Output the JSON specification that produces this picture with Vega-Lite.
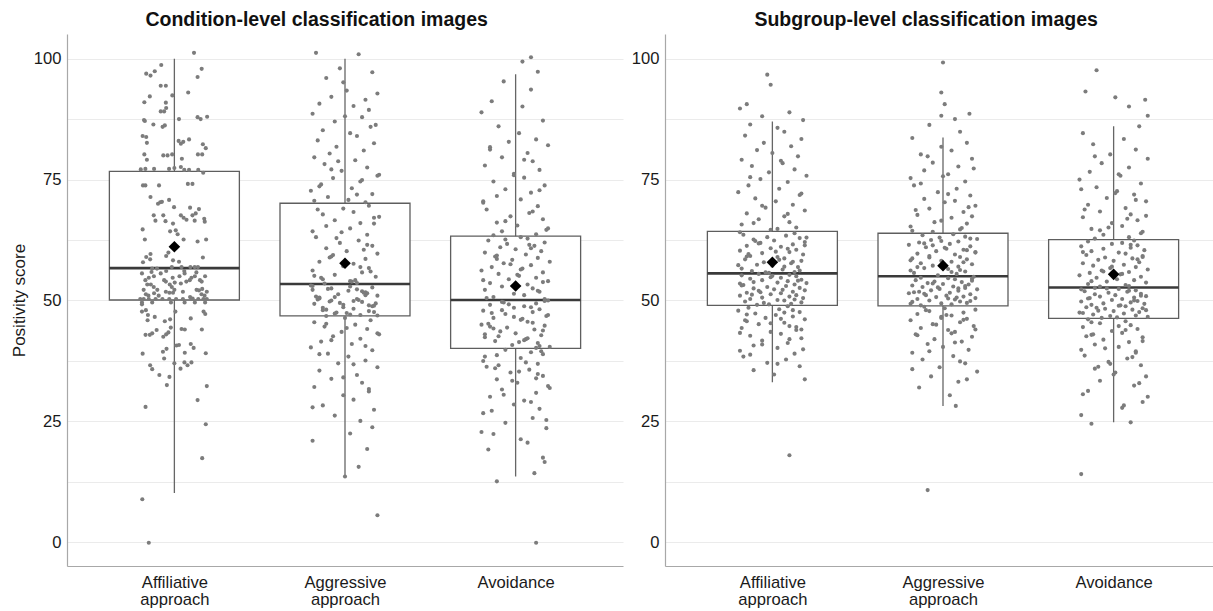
{
"$schema":"https://vega.github.io/schema/vega-lite/v6.json",
"background":"white",
"padding":{"left":10,"top":9,"right":0,"bottom":0},
"config":{"font":"Liberation Sans","view":{"stroke":null}},
"datasets":{
"boxL":[{"g":1,"lo":10.2,"q1":50.1,"med":56.7,"q3":76.7,"hi":100,"mean":61.1},{"g":2,"lo":13.7,"q1":46.8,"med":53.4,"q3":70.1,"hi":100,"mean":57.7},{"g":3,"lo":13.6,"q1":40.1,"med":50.1,"q3":63.3,"hi":96.8,"mean":53.0}],
"boxR":[{"g":1,"lo":33.1,"q1":49.0,"med":55.6,"q3":64.3,"hi":87.0,"mean":57.9},{"g":2,"lo":28.2,"q1":48.9,"med":55.0,"q3":63.9,"hi":83.7,"mean":57.2},{"g":3,"lo":24.8,"q1":46.3,"med":52.7,"q3":62.6,"hi":86.0,"mean":55.4}],
"ptsL":[{"x":1.115,"y":101.2},{"x":0.923,"y":98.7},{"x":1.16,"y":97.9},{"x":0.885,"y":97.4},{"x":0.835,"y":96.9},{"x":0.86,"y":96.5},{"x":1.136,"y":96.2},{"x":0.92,"y":94.4},{"x":0.95,"y":94.4},{"x":1.081,"y":93.0},{"x":0.988,"y":92.4},{"x":0.856,"y":92.2},{"x":0.824,"y":91.0},{"x":0.95,"y":90.9},{"x":0.952,"y":89.8},{"x":0.92,"y":89.1},{"x":0.94,"y":89.1},{"x":0.822,"y":87.3},{"x":0.827,"y":87.1},{"x":0.877,"y":86.4},{"x":0.931,"y":85.9},{"x":0.944,"y":86.2},{"x":1.027,"y":87.5},{"x":1.136,"y":87.9},{"x":1.154,"y":87.5},{"x":1.192,"y":88.0},{"x":0.814,"y":84.0},{"x":0.835,"y":83.8},{"x":0.839,"y":82.6},{"x":1.025,"y":83.0},{"x":1.038,"y":82.4},{"x":1.052,"y":82.8},{"x":1.086,"y":83.3},{"x":1.167,"y":82.3},{"x":1.184,"y":81.5},{"x":1.138,"y":80.2},{"x":1.163,"y":80.2},{"x":0.824,"y":80.2},{"x":0.839,"y":79.1},{"x":0.935,"y":80.0},{"x":0.96,"y":80.0},{"x":0.987,"y":80.2},{"x":1.044,"y":79.3},{"x":0.803,"y":77.1},{"x":0.83,"y":77.2},{"x":0.881,"y":77.2},{"x":0.969,"y":77.2},{"x":1.0,"y":77.4},{"x":1.038,"y":77.6},{"x":1.058,"y":77.0},{"x":1.086,"y":77.0},{"x":1.14,"y":77.0},{"x":1.169,"y":76.4},{"x":0.816,"y":73.8},{"x":0.83,"y":73.8},{"x":0.91,"y":73.8},{"x":1.079,"y":74.1},{"x":1.106,"y":74.1},{"x":0.86,"y":71.4},{"x":0.904,"y":70.0},{"x":0.917,"y":70.3},{"x":0.927,"y":70.4},{"x":0.969,"y":70.8},{"x":0.998,"y":69.3},{"x":1.092,"y":69.2},{"x":1.144,"y":68.9},{"x":0.879,"y":67.6},{"x":0.935,"y":67.6},{"x":1.038,"y":67.6},{"x":1.054,"y":67.1},{"x":1.106,"y":67.6},{"x":1.125,"y":68.0},{"x":0.889,"y":66.5},{"x":0.948,"y":66.4},{"x":0.992,"y":65.9},{"x":1.071,"y":66.7},{"x":1.119,"y":66.5},{"x":1.175,"y":66.9},{"x":1.178,"y":66.3},{"x":0.814,"y":64.7},{"x":0.975,"y":64.3},{"x":1.008,"y":64.5},{"x":1.019,"y":63.7},{"x":1.054,"y":62.6},{"x":0.827,"y":62.6},{"x":1.186,"y":62.6},{"x":1.136,"y":62.2},{"x":0.965,"y":59.9},{"x":0.952,"y":59.2},{"x":0.992,"y":58.3},{"x":1.027,"y":58.0},{"x":0.86,"y":59.6},{"x":0.835,"y":59.0},{"x":0.816,"y":57.9},{"x":0.858,"y":58.5},{"x":1.167,"y":58.9},{"x":0.87,"y":56.6},{"x":0.898,"y":56.6},{"x":0.952,"y":56.1},{"x":0.985,"y":56.9},{"x":1.042,"y":56.9},{"x":1.094,"y":56.9},{"x":1.119,"y":56.9},{"x":1.138,"y":56.9},{"x":0.866,"y":55.9},{"x":1.058,"y":56.1},{"x":1.129,"y":55.8},{"x":0.841,"y":53.3},{"x":0.862,"y":53.3},{"x":0.879,"y":52.8},{"x":0.973,"y":53.3},{"x":0.985,"y":52.8},{"x":1.002,"y":53.7},{"x":1.038,"y":53.5},{"x":0.833,"y":51.3},{"x":0.848,"y":51.0},{"x":0.908,"y":51.0},{"x":0.971,"y":51.6},{"x":0.992,"y":51.6},{"x":0.881,"y":51.5},{"x":1.144,"y":52.1},{"x":1.163,"y":52.4},{"x":1.159,"y":51.3},{"x":1.177,"y":51.0},{"x":1.092,"y":50.7},{"x":1.107,"y":50.4},
{"x":0.8,"y":50.3},{"x":0.82,"y":50.3},{"x":0.85,"y":50.3},{"x":0.89,"y":50.3},{"x":0.93,"y":50.3},{"x":0.97,"y":50.3},{"x":1.01,"y":50.3},{"x":1.05,"y":50.3},{"x":1.1,"y":50.3},{"x":1.14,"y":50.3},{"x":1.17,"y":50.3},{"x":1.19,"y":50.3},{"x":0.81,"y":49.6},{"x":0.87,"y":49.6},{"x":0.98,"y":49.6},{"x":1.06,"y":49.6},{"x":1.12,"y":49.6},{"x":1.18,"y":49.6},{"x":0.83,"y":54.2},{"x":0.94,"y":54.2},{"x":1.09,"y":54.2},{"x":1.15,"y":54.2},{"x":0.88,"y":55.0},{"x":1.03,"y":55.0},{"x":1.12,"y":55.0},{"x":1.18,"y":55.0},{"x":0.81,"y":55.6},{"x":0.92,"y":55.6},{"x":1.06,"y":55.6},{"x":0.85,"y":54.7},{"x":0.99,"y":54.7},{"x":1.1,"y":54.7},{"x":0.95,"y":53.9},{"x":1.07,"y":53.9},{"x":1.16,"y":53.9},{"x":0.82,"y":52.2},{"x":0.9,"y":52.2},{"x":1.0,"y":52.2},{"x":1.13,"y":52.2},{"x":0.95,"y":51.8},{"x":1.05,"y":51.8},{"x":1.19,"y":51.8},
{"x":0.81,"y":49.2},{"x":0.833,"y":48.0},{"x":0.845,"y":47.0},{"x":0.81,"y":47.7},{"x":0.885,"y":46.6},{"x":0.843,"y":45.9},{"x":0.944,"y":45.7},{"x":0.975,"y":46.1},{"x":1.006,"y":47.7},{"x":1.096,"y":46.3},{"x":1.171,"y":47.7},{"x":1.181,"y":47.2},{"x":0.831,"y":42.9},{"x":0.856,"y":42.9},{"x":0.87,"y":43.2},{"x":0.896,"y":43.9},{"x":0.935,"y":42.5},{"x":0.952,"y":43.0},{"x":0.965,"y":43.4},{"x":0.979,"y":44.4},{"x":1.042,"y":44.1},{"x":1.061,"y":44.0},{"x":1.161,"y":44.0},{"x":0.933,"y":39.4},{"x":0.954,"y":40.0},{"x":1.012,"y":40.7},{"x":1.027,"y":40.8},{"x":1.061,"y":39.2},{"x":1.096,"y":41.0},{"x":1.113,"y":40.2},{"x":0.814,"y":39.0},{"x":1.184,"y":39.1},{"x":0.94,"y":38.0},{"x":1.0,"y":37.0},{"x":1.036,"y":35.9},{"x":1.059,"y":37.2},{"x":1.077,"y":36.6},{"x":1.1,"y":37.2},{"x":0.858,"y":36.6},{"x":0.87,"y":35.8},{"x":0.912,"y":34.6},{"x":0.971,"y":34.2},{"x":0.956,"y":32.5},{"x":1.19,"y":32.3},{"x":1.136,"y":29.4},{"x":0.831,"y":28.0},{"x":1.184,"y":24.4},{"x":1.163,"y":17.4},{"x":0.812,"y":8.9},{"x":0.85,"y":-0.1},
{"x":1.83,"y":101.2},{"x":2.08,"y":100.9},{"x":1.97,"y":98.0},{"x":2.16,"y":97.2},{"x":1.89,"y":96.0},{"x":2.01,"y":93.4},{"x":2.19,"y":92.8},{"x":1.92,"y":92.1},{"x":2.12,"y":91.5},{"x":1.85,"y":90.7},{"x":2.05,"y":90.2},{"x":1.99,"y":95.1},{"x":2.14,"y":89.4},{"x":1.81,"y":88.6},{"x":2.1,"y":87.9},{"x":1.94,"y":87.0},{"x":2.18,"y":86.3},{"x":1.87,"y":85.2},{"x":2.03,"y":84.6},{"x":2.07,"y":84.0},{"x":1.84,"y":83.1},{"x":2.17,"y":82.5},{"x":1.95,"y":81.8},{"x":2.11,"y":81.0},{"x":1.91,"y":80.4},{"x":2.0,"y":88.1},{"x":2.15,"y":85.9},{"x":1.82,"y":79.6},{"x":2.06,"y":79.0},{"x":1.88,"y":78.2},{"x":2.13,"y":77.5},{"x":1.98,"y":76.8},{"x":2.2,"y":76.0},{"x":1.93,"y":75.3},{"x":2.09,"y":74.6},{"x":1.86,"y":74.0},{"x":2.04,"y":73.2},{"x":1.8,"y":72.7},{"x":2.16,"y":72.0},{"x":1.9,"y":71.4},{"x":2.02,"y":70.8},{"x":2.12,"y":70.3},{"x":1.96,"y":78.8},{"x":2.19,"y":75.8},{"x":1.85,"y":73.6},{"x":2.07,"y":71.9},{"x":1.92,"y":77.1},{"x":2.1,"y":74.9},{"x":1.82,"y":70.6},
{"x":2.14,"y":69.6},{"x":1.99,"y":69.0},{"x":2.05,"y":68.3},{"x":1.87,"y":67.8},{"x":2.17,"y":67.1},{"x":1.94,"y":66.6},{"x":2.09,"y":66.0},{"x":1.89,"y":65.4},{"x":2.03,"y":64.9},{"x":1.81,"y":64.3},{"x":2.13,"y":63.6},{"x":1.83,"y":63.1},{"x":2.08,"y":62.4},{"x":1.97,"y":61.9},{"x":2.16,"y":61.3},{"x":1.89,"y":60.8},{"x":2.01,"y":60.2},{"x":2.19,"y":59.7},{"x":1.92,"y":59.1},{"x":2.12,"y":58.6},{"x":1.85,"y":58.0},{"x":2.05,"y":57.6},{"x":1.99,"y":57.1},{"x":2.14,"y":56.7},{"x":1.81,"y":56.2},{"x":2.1,"y":55.8},{"x":1.94,"y":55.3},{"x":2.18,"y":54.9},{"x":1.87,"y":54.4},{"x":2.03,"y":54.0},{"x":2.07,"y":53.6},{"x":1.84,"y":68.8},{"x":2.17,"y":65.9},{"x":1.95,"y":62.9},{"x":2.11,"y":60.5},{"x":1.91,"y":58.9},{"x":2.0,"y":57.4},{"x":2.15,"y":56.0},{"x":1.82,"y":55.1},{"x":2.06,"y":54.2},{"x":1.88,"y":53.5},{"x":2.13,"y":61.5},{"x":1.98,"y":64.1},{"x":2.2,"y":67.3},{"x":1.93,"y":59.4},{"x":2.09,"y":56.9},{"x":1.86,"y":54.7},{"x":2.04,"y":53.9},
{"x":1.8,"y":53.1},{"x":2.16,"y":52.7},{"x":1.9,"y":52.4},{"x":2.02,"y":52.0},{"x":2.12,"y":51.7},{"x":1.96,"y":51.3},{"x":2.19,"y":51.0},{"x":1.85,"y":50.6},{"x":2.07,"y":50.3},{"x":1.92,"y":50.0},{"x":2.1,"y":49.7},{"x":1.82,"y":49.3},{"x":2.14,"y":49.0},{"x":1.99,"y":48.6},{"x":2.05,"y":48.3},{"x":1.87,"y":48.0},{"x":2.17,"y":47.6},{"x":1.94,"y":47.3},{"x":2.09,"y":47.0},{"x":1.89,"y":46.8},{"x":2.03,"y":52.9},{"x":1.81,"y":52.2},{"x":2.13,"y":51.5},{"x":1.83,"y":50.8},{"x":2.08,"y":50.1},{"x":1.97,"y":49.5},{"x":2.16,"y":48.8},{"x":1.89,"y":48.1},{"x":2.01,"y":47.4},{"x":2.19,"y":46.9},{"x":1.92,"y":52.5},{"x":2.12,"y":51.1},{"x":1.85,"y":50.4},{"x":2.05,"y":49.9},{"x":1.99,"y":49.1},{"x":2.14,"y":47.8},{"x":1.81,"y":53.0},{"x":2.1,"y":51.9},{"x":1.94,"y":50.7},{"x":2.18,"y":49.4},{"x":1.87,"y":48.5},{"x":2.03,"y":47.1},{"x":2.07,"y":52.3},{"x":1.84,"y":50.2},{"x":2.17,"y":48.9},{"x":1.95,"y":47.5},{"x":2.11,"y":51.6},{"x":1.91,"y":49.8},
{"x":2.0,"y":46.4},{"x":2.15,"y":45.9},{"x":1.82,"y":45.5},{"x":2.06,"y":45.0},{"x":1.88,"y":44.6},{"x":2.13,"y":44.1},{"x":1.98,"y":43.5},{"x":2.2,"y":43.0},{"x":1.93,"y":42.6},{"x":2.09,"y":42.1},{"x":1.86,"y":41.5},{"x":2.04,"y":41.0},{"x":1.8,"y":40.3},{"x":2.16,"y":39.7},{"x":1.9,"y":39.0},{"x":2.02,"y":38.4},{"x":2.12,"y":37.6},{"x":1.96,"y":37.0},{"x":2.19,"y":36.2},{"x":1.85,"y":35.5},{"x":2.07,"y":34.6},{"x":1.92,"y":33.8},{"x":2.1,"y":33.0},{"x":1.82,"y":32.1},{"x":2.14,"y":31.2},{"x":1.99,"y":30.4},{"x":2.05,"y":29.5},{"x":1.87,"y":28.3},{"x":2.17,"y":27.4},{"x":1.94,"y":26.2},{"x":2.09,"y":25.1},{"x":2.16,"y":23.8},{"x":2.03,"y":22.5},{"x":1.81,"y":21.0},{"x":2.13,"y":19.3},{"x":2.08,"y":15.6},{"x":2.0,"y":13.6},{"x":2.19,"y":5.6},{"x":1.89,"y":45.2},{"x":2.01,"y":44.3},{"x":2.19,"y":43.2},{"x":1.92,"y":41.8},{"x":2.12,"y":40.6},{"x":1.85,"y":38.9},{"x":2.05,"y":36.8},{"x":1.99,"y":34.1},{"x":2.14,"y":31.7},{"x":1.81,"y":27.9},
{"x":3.09,"y":100.3},{"x":3.04,"y":99.4},{"x":3.13,"y":97.3},{"x":2.93,"y":95.3},{"x":3.09,"y":93.6},{"x":2.86,"y":91.2},{"x":3.04,"y":90.1},{"x":2.8,"y":88.9},{"x":3.16,"y":87.2},{"x":2.9,"y":86.0},{"x":3.02,"y":84.6},{"x":3.12,"y":83.3},{"x":2.96,"y":82.8},{"x":3.19,"y":82.1},{"x":2.85,"y":81.2},{"x":3.07,"y":80.5},{"x":2.92,"y":79.6},{"x":3.1,"y":78.8},{"x":2.82,"y":77.9},{"x":3.14,"y":77.0},{"x":2.99,"y":76.2},{"x":3.05,"y":75.4},{"x":2.87,"y":74.6},{"x":3.17,"y":73.8},{"x":2.94,"y":73.0},{"x":3.09,"y":72.3},{"x":2.89,"y":71.6},{"x":3.03,"y":70.9},{"x":2.81,"y":70.2},{"x":3.13,"y":69.5},{"x":2.83,"y":68.8},{"x":3.08,"y":68.1},{"x":2.97,"y":67.4},{"x":3.16,"y":66.8},{"x":2.89,"y":66.1},{"x":3.01,"y":65.5},{"x":3.19,"y":64.9},{"x":2.92,"y":64.3},{"x":3.12,"y":63.7},{"x":2.85,"y":81.7},{"x":3.05,"y":79.1},{"x":2.99,"y":75.9},{"x":3.14,"y":72.8},{"x":2.81,"y":70.5},{"x":3.1,"y":68.4},{"x":2.94,"y":66.4},{"x":3.18,"y":64.6},{"x":2.87,"y":63.5},
{"x":3.03,"y":63.1},{"x":3.07,"y":62.8},{"x":2.84,"y":62.4},{"x":3.17,"y":62.0},{"x":2.95,"y":61.7},{"x":3.11,"y":61.3},{"x":2.91,"y":61.0},{"x":3.0,"y":60.6},{"x":3.15,"y":60.2},{"x":2.82,"y":59.9},{"x":3.06,"y":59.5},{"x":2.88,"y":59.1},{"x":3.13,"y":58.8},{"x":2.98,"y":58.4},{"x":3.2,"y":58.0},{"x":2.93,"y":57.7},{"x":3.09,"y":57.3},{"x":2.86,"y":56.9},{"x":3.04,"y":56.6},{"x":2.8,"y":56.2},{"x":3.16,"y":55.8},{"x":2.9,"y":55.5},{"x":3.02,"y":55.1},{"x":3.12,"y":54.7},{"x":2.96,"y":54.4},{"x":3.19,"y":54.0},{"x":2.85,"y":53.6},{"x":3.07,"y":53.3},{"x":2.92,"y":52.9},{"x":3.1,"y":52.5},{"x":2.82,"y":52.2},{"x":3.14,"y":51.8},{"x":2.99,"y":51.4},{"x":3.05,"y":51.1},{"x":2.87,"y":50.7},{"x":3.17,"y":50.3},{"x":2.94,"y":62.6},{"x":3.09,"y":60.8},{"x":2.89,"y":58.6},{"x":3.03,"y":56.4},{"x":2.81,"y":54.2},{"x":3.13,"y":52.0},{"x":2.83,"y":50.5},{"x":3.08,"y":61.5},{"x":2.97,"y":57.5},{"x":3.16,"y":53.8},{"x":2.89,"y":59.3},{"x":3.01,"y":55.3},
{"x":3.19,"y":50.0},{"x":2.92,"y":49.7},{"x":3.12,"y":49.4},{"x":2.85,"y":49.1},{"x":3.05,"y":48.8},{"x":2.99,"y":48.5},{"x":3.14,"y":48.2},{"x":2.81,"y":47.9},{"x":3.1,"y":47.6},{"x":2.94,"y":47.2},{"x":3.18,"y":46.8},{"x":2.87,"y":46.4},{"x":3.03,"y":46.0},{"x":3.07,"y":45.6},{"x":2.84,"y":45.2},{"x":3.17,"y":44.8},{"x":2.95,"y":44.4},{"x":3.11,"y":44.0},{"x":2.91,"y":43.6},{"x":3.0,"y":43.2},{"x":3.15,"y":42.8},{"x":2.82,"y":42.4},{"x":3.06,"y":42.0},{"x":2.88,"y":41.6},{"x":3.13,"y":41.2},{"x":2.98,"y":40.8},{"x":3.2,"y":40.4},{"x":2.93,"y":49.6},{"x":3.09,"y":48.6},{"x":2.86,"y":47.4},{"x":3.04,"y":46.2},{"x":2.8,"y":45.0},{"x":3.16,"y":43.8},{"x":2.9,"y":42.6},{"x":3.02,"y":41.4},{"x":3.12,"y":40.2},{"x":2.96,"y":49.2},{"x":3.19,"y":47.0},{"x":2.85,"y":44.6},{"x":3.07,"y":42.2},{"x":2.92,"y":48.0},{"x":3.1,"y":45.4},{"x":2.82,"y":43.0},{"x":3.14,"y":40.6},{"x":2.99,"y":46.6},{"x":3.05,"y":41.8},{"x":2.87,"y":44.2},{"x":3.17,"y":49.9},
{"x":2.94,"y":39.8},{"x":3.09,"y":39.3},{"x":2.89,"y":38.7},{"x":3.03,"y":38.1},{"x":2.81,"y":37.5},{"x":3.13,"y":36.9},{"x":2.83,"y":36.3},{"x":3.08,"y":35.7},{"x":2.97,"y":35.1},{"x":3.16,"y":34.4},{"x":2.89,"y":33.7},{"x":3.01,"y":33.0},{"x":3.19,"y":32.3},{"x":2.92,"y":31.6},{"x":3.12,"y":30.9},{"x":2.85,"y":30.1},{"x":3.05,"y":29.3},{"x":2.99,"y":28.5},{"x":3.14,"y":27.6},{"x":2.81,"y":26.7},{"x":3.1,"y":25.7},{"x":2.94,"y":24.7},{"x":3.18,"y":23.6},{"x":2.87,"y":22.4},{"x":3.03,"y":21.3},{"x":3.07,"y":20.6},{"x":2.84,"y":19.2},{"x":3.16,"y":17.5},{"x":3.17,"y":16.6},{"x":3.11,"y":14.3},{"x":2.89,"y":12.6},{"x":3.12,"y":-0.1},{"x":3.15,"y":39.5},{"x":2.82,"y":38.4},{"x":3.06,"y":37.2},{"x":2.88,"y":36.0},{"x":3.13,"y":34.8},{"x":2.98,"y":33.4},{"x":3.2,"y":31.9},{"x":2.93,"y":30.5},{"x":3.09,"y":29.0},{"x":2.86,"y":27.2},{"x":3.18,"y":25.3},{"x":2.8,"y":22.8},{"x":3.16,"y":38.9},{"x":2.9,"y":36.6},{"x":3.02,"y":35.3},{"x":3.12,"y":33.9}],
"ptsR":[{"x":0.97,"y":96.7},{"x":0.99,"y":94.6},{"x":0.85,"y":90.6},{"x":0.81,"y":89.7},{"x":1.1,"y":88.9},{"x":0.94,"y":88.1},{"x":1.18,"y":87.3},{"x":0.87,"y":86.4},{"x":1.03,"y":85.7},{"x":1.07,"y":84.9},{"x":0.84,"y":84.1},{"x":1.17,"y":83.4},{"x":0.95,"y":82.6},{"x":1.11,"y":81.9},{"x":0.91,"y":81.1},{"x":1.0,"y":80.5},{"x":1.15,"y":79.8},{"x":0.82,"y":79.1},{"x":1.06,"y":78.4},{"x":0.88,"y":77.8},{"x":1.13,"y":77.1},{"x":0.98,"y":76.5},{"x":1.2,"y":75.8},{"x":0.93,"y":75.1},{"x":1.09,"y":74.5},{"x":0.86,"y":73.8},{"x":1.04,"y":73.1},{"x":0.8,"y":72.4},{"x":1.16,"y":71.8},{"x":0.9,"y":71.1},{"x":1.02,"y":70.5},{"x":1.12,"y":69.8},{"x":0.96,"y":69.2},{"x":1.19,"y":68.6},{"x":0.85,"y":68.0},{"x":1.07,"y":67.4},{"x":0.92,"y":66.8},{"x":1.1,"y":66.2},{"x":0.82,"y":65.7},{"x":1.14,"y":65.1},{"x":0.99,"y":64.6},{"x":1.05,"y":78.9},{"x":0.87,"y":75.5},{"x":1.17,"y":72.1},{"x":0.94,"y":69.6},{"x":1.09,"y":67.9},{"x":0.89,"y":66.0},{"x":1.03,"y":64.8},
{"x":0.81,"y":64.1},{"x":1.13,"y":63.9},{"x":0.83,"y":63.6},{"x":1.08,"y":63.4},{"x":0.97,"y":63.1},{"x":1.16,"y":62.9},{"x":0.89,"y":62.6},{"x":1.01,"y":62.4},{"x":1.19,"y":62.1},{"x":0.92,"y":61.8},{"x":1.12,"y":61.6},{"x":0.85,"y":61.3},{"x":1.05,"y":61.1},{"x":0.99,"y":60.8},{"x":1.14,"y":60.5},{"x":0.81,"y":60.3},{"x":1.1,"y":60.0},{"x":0.94,"y":59.8},{"x":1.18,"y":59.5},{"x":0.87,"y":59.2},{"x":1.03,"y":59.0},{"x":1.07,"y":58.7},{"x":0.84,"y":58.5},{"x":1.17,"y":58.2},{"x":0.95,"y":57.9},{"x":1.11,"y":57.7},{"x":0.91,"y":57.4},{"x":1.0,"y":57.2},{"x":1.15,"y":56.9},{"x":0.82,"y":56.6},{"x":1.06,"y":56.4},{"x":0.88,"y":56.1},{"x":1.13,"y":55.9},{"x":0.98,"y":55.7},{"x":1.2,"y":63.0},{"x":0.93,"y":61.9},{"x":1.09,"y":60.7},{"x":0.86,"y":59.6},{"x":1.04,"y":58.4},{"x":0.8,"y":57.3},{"x":1.16,"y":56.2},{"x":0.9,"y":62.3},{"x":1.02,"y":60.1},{"x":1.12,"y":58.0},{"x":0.96,"y":55.8},{"x":1.19,"y":61.4},{"x":0.85,"y":59.1},{"x":1.07,"y":57.0},
{"x":0.92,"y":55.5},{"x":1.1,"y":55.3},{"x":0.82,"y":55.2},{"x":1.14,"y":55.0},{"x":0.99,"y":54.8},{"x":1.05,"y":54.7},{"x":0.87,"y":54.5},{"x":1.17,"y":54.3},{"x":0.94,"y":54.2},{"x":1.09,"y":54.0},{"x":0.89,"y":53.8},{"x":1.03,"y":53.7},{"x":0.81,"y":53.5},{"x":1.13,"y":53.3},{"x":0.83,"y":53.2},{"x":1.08,"y":53.0},{"x":0.97,"y":52.8},{"x":1.16,"y":52.6},{"x":0.89,"y":52.5},{"x":1.01,"y":52.3},{"x":1.19,"y":52.1},{"x":0.92,"y":52.0},{"x":1.12,"y":51.8},{"x":0.85,"y":51.6},{"x":1.05,"y":51.5},{"x":0.99,"y":51.3},{"x":1.14,"y":51.1},{"x":0.81,"y":51.0},{"x":1.1,"y":50.8},{"x":0.94,"y":50.6},{"x":1.18,"y":50.5},{"x":0.87,"y":50.3},{"x":1.03,"y":50.1},{"x":1.07,"y":50.0},{"x":0.84,"y":49.8},{"x":1.17,"y":49.6},{"x":0.95,"y":49.5},{"x":1.11,"y":49.3},{"x":0.91,"y":49.1},{"x":1.0,"y":55.1},{"x":1.15,"y":54.1},{"x":0.82,"y":53.1},{"x":1.06,"y":52.2},{"x":0.88,"y":51.2},{"x":1.13,"y":50.2},{"x":0.98,"y":49.2},{"x":1.2,"y":53.6},{"x":0.93,"y":51.7},
{"x":1.09,"y":48.8},{"x":0.86,"y":48.5},{"x":1.04,"y":48.2},{"x":0.8,"y":47.9},{"x":1.16,"y":47.6},{"x":0.9,"y":47.3},{"x":1.02,"y":47.0},{"x":1.12,"y":46.7},{"x":0.96,"y":46.4},{"x":1.19,"y":46.1},{"x":0.85,"y":45.7},{"x":1.07,"y":45.4},{"x":0.92,"y":45.1},{"x":1.1,"y":44.7},{"x":0.82,"y":44.3},{"x":1.14,"y":43.9},{"x":0.99,"y":43.5},{"x":1.05,"y":43.1},{"x":0.87,"y":42.7},{"x":1.17,"y":42.2},{"x":0.94,"y":41.7},{"x":1.09,"y":41.2},{"x":0.89,"y":40.7},{"x":1.03,"y":40.2},{"x":0.81,"y":39.6},{"x":1.13,"y":39.0},{"x":0.83,"y":38.4},{"x":1.08,"y":37.8},{"x":0.97,"y":37.1},{"x":1.16,"y":36.4},{"x":0.89,"y":35.6},{"x":1.01,"y":34.7},{"x":1.19,"y":33.7},{"x":1.1,"y":18.0},{"x":1.12,"y":48.0},{"x":0.85,"y":47.1},{"x":1.05,"y":46.2},{"x":0.99,"y":45.3},{"x":1.14,"y":44.5},{"x":0.81,"y":43.3},{"x":1.1,"y":42.0},{"x":0.94,"y":40.9},{"x":1.18,"y":39.9},{"x":0.87,"y":38.8},{"x":1.03,"y":36.9},{"x":1.07,"y":47.5},{"x":0.84,"y":45.9},{"x":1.17,"y":44.0},
{"x":2.0,"y":99.2},{"x":1.99,"y":93.0},{"x":2.01,"y":90.6},{"x":2.155,"y":88.6},{"x":1.99,"y":88.2},{"x":2.07,"y":87.5},{"x":1.92,"y":86.3},{"x":2.1,"y":84.9},{"x":1.82,"y":83.6},{"x":2.14,"y":82.6},{"x":1.99,"y":81.8},{"x":2.05,"y":81.0},{"x":1.87,"y":80.2},{"x":2.17,"y":79.3},{"x":1.94,"y":78.5},{"x":2.09,"y":77.7},{"x":1.89,"y":76.9},{"x":2.03,"y":76.1},{"x":1.81,"y":75.3},{"x":2.13,"y":74.6},{"x":1.83,"y":73.8},{"x":2.08,"y":73.1},{"x":1.97,"y":72.4},{"x":2.16,"y":71.7},{"x":1.89,"y":71.0},{"x":2.01,"y":70.3},{"x":2.19,"y":69.6},{"x":1.92,"y":69.0},{"x":2.12,"y":68.3},{"x":1.85,"y":67.7},{"x":2.05,"y":67.1},{"x":1.99,"y":66.5},{"x":2.14,"y":65.9},{"x":1.81,"y":65.3},{"x":2.1,"y":64.7},{"x":1.94,"y":64.2},{"x":2.18,"y":77.3},{"x":1.87,"y":74.2},{"x":2.03,"y":72.0},{"x":2.07,"y":70.6},{"x":1.84,"y":68.7},{"x":2.17,"y":67.4},{"x":1.95,"y":66.2},{"x":2.11,"y":65.0},{"x":1.91,"y":79.8},{"x":2.0,"y":75.7},{"x":2.15,"y":69.3},{"x":1.82,"y":64.4},
{"x":2.06,"y":63.7},{"x":1.88,"y":63.5},{"x":2.13,"y":63.2},{"x":1.98,"y":63.0},{"x":2.2,"y":62.7},{"x":1.93,"y":62.5},{"x":2.09,"y":62.2},{"x":1.86,"y":62.0},{"x":2.04,"y":61.7},{"x":1.8,"y":61.5},{"x":2.16,"y":61.2},{"x":1.9,"y":61.0},{"x":2.02,"y":60.7},{"x":2.12,"y":60.5},{"x":1.96,"y":60.2},{"x":2.19,"y":60.0},{"x":1.85,"y":59.7},{"x":2.07,"y":59.5},{"x":1.92,"y":59.2},{"x":2.1,"y":59.0},{"x":1.82,"y":58.7},{"x":2.14,"y":58.5},{"x":1.99,"y":58.2},{"x":2.05,"y":58.0},{"x":1.87,"y":57.7},{"x":2.17,"y":57.5},{"x":1.94,"y":57.2},{"x":2.09,"y":57.0},{"x":1.89,"y":56.7},{"x":2.03,"y":56.5},{"x":1.81,"y":56.2},{"x":2.13,"y":56.0},{"x":1.83,"y":55.7},{"x":2.08,"y":55.5},{"x":1.97,"y":55.2},{"x":2.16,"y":62.8},{"x":1.89,"y":61.8},{"x":2.01,"y":60.9},{"x":2.19,"y":59.9},{"x":1.92,"y":58.9},{"x":2.12,"y":57.9},{"x":1.85,"y":56.9},{"x":2.05,"y":55.9},{"x":1.99,"y":62.3},{"x":2.14,"y":60.4},{"x":1.81,"y":58.3},{"x":2.1,"y":56.3},{"x":1.94,"y":61.4},
{"x":2.18,"y":54.9},{"x":1.87,"y":54.7},{"x":2.03,"y":54.6},{"x":2.07,"y":54.4},{"x":1.84,"y":54.2},{"x":2.17,"y":54.1},{"x":1.95,"y":53.9},{"x":2.11,"y":53.8},{"x":1.91,"y":53.6},{"x":2.0,"y":53.4},{"x":2.15,"y":53.3},{"x":1.82,"y":53.1},{"x":2.06,"y":52.9},{"x":1.88,"y":52.8},{"x":2.13,"y":52.6},{"x":1.98,"y":52.4},{"x":2.2,"y":52.3},{"x":1.93,"y":52.1},{"x":2.09,"y":52.0},{"x":1.86,"y":51.8},{"x":2.04,"y":51.6},{"x":1.8,"y":51.5},{"x":2.16,"y":51.3},{"x":1.9,"y":51.1},{"x":2.02,"y":51.0},{"x":2.12,"y":50.8},{"x":1.96,"y":50.7},{"x":2.19,"y":50.5},{"x":1.85,"y":50.3},{"x":2.07,"y":50.2},{"x":1.92,"y":50.0},{"x":2.1,"y":49.8},{"x":1.82,"y":49.7},{"x":2.14,"y":49.5},{"x":1.99,"y":49.4},{"x":2.05,"y":49.2},{"x":1.87,"y":49.0},{"x":2.17,"y":54.5},{"x":1.94,"y":53.5},{"x":2.09,"y":52.5},{"x":1.89,"y":51.4},{"x":2.03,"y":50.4},{"x":1.81,"y":49.3},{"x":2.13,"y":53.0},{"x":1.83,"y":51.7},{"x":2.08,"y":50.6},{"x":1.97,"y":52.7},{"x":2.16,"y":49.9},
{"x":1.89,"y":48.7},{"x":2.01,"y":48.4},{"x":2.19,"y":48.1},{"x":1.92,"y":47.8},{"x":2.12,"y":47.5},{"x":1.85,"y":47.2},{"x":2.05,"y":46.9},{"x":1.99,"y":46.6},{"x":2.14,"y":46.2},{"x":1.81,"y":45.9},{"x":2.1,"y":45.5},{"x":1.94,"y":45.1},{"x":2.18,"y":44.7},{"x":1.87,"y":44.3},{"x":2.03,"y":43.9},{"x":2.07,"y":43.5},{"x":1.84,"y":43.0},{"x":2.17,"y":42.5},{"x":1.95,"y":42.0},{"x":2.11,"y":41.5},{"x":1.91,"y":41.0},{"x":2.0,"y":40.4},{"x":2.15,"y":39.8},{"x":1.82,"y":39.2},{"x":2.06,"y":38.5},{"x":1.88,"y":37.8},{"x":2.13,"y":37.0},{"x":1.98,"y":36.2},{"x":2.2,"y":35.3},{"x":1.93,"y":34.3},{"x":2.09,"y":33.2},{"x":1.86,"y":32.0},{"x":2.04,"y":30.4},{"x":2.075,"y":28.2},{"x":1.91,"y":10.8},{"x":1.9,"y":48.0},{"x":2.02,"y":47.0},{"x":2.12,"y":46.0},{"x":1.96,"y":45.0},{"x":2.19,"y":44.0},{"x":1.85,"y":42.8},{"x":2.07,"y":41.3},{"x":1.92,"y":39.5},{"x":2.1,"y":37.4},{"x":1.82,"y":35.8},{"x":2.14,"y":33.7},{"x":1.99,"y":46.4},{"x":2.05,"y":43.2},
{"x":2.9,"y":97.6},{"x":2.835,"y":93.2},{"x":3.01,"y":92.0},{"x":3.185,"y":91.5},{"x":3.09,"y":90.1},{"x":3.2,"y":88.2},{"x":3.15,"y":86.0},{"x":2.82,"y":84.6},{"x":3.06,"y":83.4},{"x":2.88,"y":82.3},{"x":3.13,"y":81.2},{"x":2.98,"y":80.2},{"x":3.2,"y":79.3},{"x":2.93,"y":78.4},{"x":3.09,"y":77.5},{"x":2.86,"y":76.6},{"x":3.04,"y":75.8},{"x":2.8,"y":75.0},{"x":3.16,"y":74.2},{"x":2.9,"y":73.4},{"x":3.02,"y":72.6},{"x":3.12,"y":71.9},{"x":2.96,"y":71.2},{"x":3.19,"y":70.5},{"x":2.85,"y":69.8},{"x":3.07,"y":69.1},{"x":2.92,"y":68.4},{"x":3.1,"y":67.8},{"x":2.82,"y":67.2},{"x":3.14,"y":66.6},{"x":2.99,"y":66.0},{"x":3.05,"y":65.4},{"x":2.87,"y":64.8},{"x":3.17,"y":64.2},{"x":2.94,"y":63.6},{"x":3.09,"y":63.1},{"x":2.89,"y":62.8},{"x":3.03,"y":76.1},{"x":2.81,"y":73.0},{"x":3.13,"y":70.8},{"x":2.83,"y":68.8},{"x":3.08,"y":66.9},{"x":2.97,"y":65.1},{"x":3.16,"y":63.9},{"x":2.89,"y":79.8},{"x":3.01,"y":72.2},{"x":3.19,"y":67.5},{"x":2.92,"y":64.5},
{"x":3.12,"y":62.4},{"x":2.85,"y":62.2},{"x":3.05,"y":61.9},{"x":2.99,"y":61.7},{"x":3.14,"y":61.4},{"x":2.81,"y":61.2},{"x":3.1,"y":60.9},{"x":2.94,"y":60.7},{"x":3.18,"y":60.4},{"x":2.87,"y":60.2},{"x":3.03,"y":59.9},{"x":3.07,"y":59.7},{"x":2.84,"y":59.4},{"x":3.17,"y":59.2},{"x":2.95,"y":58.9},{"x":3.11,"y":58.7},{"x":2.91,"y":58.4},{"x":3.0,"y":58.2},{"x":3.15,"y":57.9},{"x":2.82,"y":57.7},{"x":3.06,"y":57.4},{"x":2.88,"y":57.2},{"x":3.13,"y":56.9},{"x":2.98,"y":56.7},{"x":3.2,"y":56.4},{"x":2.93,"y":56.2},{"x":3.09,"y":55.9},{"x":2.86,"y":55.7},{"x":3.04,"y":55.4},{"x":2.8,"y":55.2},{"x":3.16,"y":54.9},{"x":2.9,"y":54.7},{"x":3.02,"y":54.4},{"x":3.12,"y":54.2},{"x":2.96,"y":53.9},{"x":3.19,"y":53.7},{"x":2.85,"y":53.4},{"x":3.07,"y":53.2},{"x":2.92,"y":52.9},{"x":3.1,"y":61.5},{"x":2.82,"y":60.0},{"x":3.14,"y":58.5},{"x":2.99,"y":57.0},{"x":3.05,"y":55.5},{"x":2.87,"y":54.0},{"x":3.17,"y":59.0},{"x":2.94,"y":56.0},{"x":3.09,"y":53.0},
{"x":2.89,"y":52.6},{"x":3.03,"y":52.4},{"x":2.81,"y":52.3},{"x":3.13,"y":52.1},{"x":2.83,"y":51.9},{"x":3.08,"y":51.8},{"x":2.97,"y":51.6},{"x":3.16,"y":51.4},{"x":2.89,"y":51.3},{"x":3.01,"y":51.1},{"x":3.19,"y":50.9},{"x":2.92,"y":50.8},{"x":3.12,"y":50.6},{"x":2.85,"y":50.4},{"x":3.05,"y":50.3},{"x":2.99,"y":50.1},{"x":3.14,"y":49.9},{"x":2.81,"y":49.8},{"x":3.1,"y":49.6},{"x":2.94,"y":49.4},{"x":3.18,"y":49.3},{"x":2.87,"y":49.1},{"x":3.03,"y":48.9},{"x":3.07,"y":48.8},{"x":2.84,"y":48.6},{"x":3.17,"y":48.4},{"x":2.95,"y":48.3},{"x":3.11,"y":48.1},{"x":2.91,"y":47.9},{"x":3.0,"y":47.8},{"x":3.15,"y":47.6},{"x":2.82,"y":47.4},{"x":3.06,"y":47.3},{"x":2.88,"y":47.1},{"x":3.13,"y":46.9},{"x":2.98,"y":46.8},{"x":3.2,"y":46.6},{"x":2.93,"y":46.4},{"x":3.09,"y":52.0},{"x":2.86,"y":50.5},{"x":3.04,"y":49.0},{"x":2.8,"y":47.5},{"x":3.16,"y":51.0},{"x":2.9,"y":48.5},{"x":3.02,"y":46.5},{"x":3.12,"y":50.0},{"x":2.96,"y":52.5},{"x":3.19,"y":48.0},
{"x":2.85,"y":46.1},{"x":3.07,"y":45.7},{"x":2.92,"y":45.3},{"x":3.1,"y":44.9},{"x":2.82,"y":44.5},{"x":3.14,"y":44.1},{"x":2.99,"y":43.7},{"x":3.05,"y":43.3},{"x":2.87,"y":42.9},{"x":3.17,"y":42.4},{"x":2.94,"y":41.9},{"x":3.09,"y":41.4},{"x":2.89,"y":40.9},{"x":3.03,"y":40.4},{"x":2.81,"y":39.8},{"x":3.13,"y":39.2},{"x":2.83,"y":38.6},{"x":3.08,"y":38.0},{"x":2.97,"y":37.3},{"x":3.16,"y":36.6},{"x":2.89,"y":35.9},{"x":3.01,"y":35.1},{"x":3.19,"y":34.3},{"x":2.92,"y":33.4},{"x":3.12,"y":32.4},{"x":2.85,"y":31.3},{"x":3.2,"y":30.1},{"x":3.17,"y":29.0},{"x":3.05,"y":27.8},{"x":2.81,"y":26.3},{"x":3.1,"y":24.8},{"x":2.87,"y":24.5},{"x":2.81,"y":14.1},{"x":2.87,"y":45.5},{"x":3.03,"y":44.7},{"x":3.07,"y":43.9},{"x":2.84,"y":42.6},{"x":3.17,"y":41.6},{"x":2.95,"y":40.1},{"x":3.11,"y":38.3},{"x":2.91,"y":36.3},{"x":3.0,"y":34.7},{"x":3.15,"y":32.9},{"x":2.82,"y":30.6},{"x":3.06,"y":28.3},{"x":2.88,"y":43.0},{"x":3.13,"y":39.5},{"x":2.98,"y":36.9}]
},
"spacing":42,
"bounds":"flush",
"hconcat":[
{"width":556,"height":532,
"title":{"text":"Condition-level classification images","fontSize":19.5,"fontWeight":"bold","anchor":"middle","frame":"bounds","offset":4,"color":"#111111"},
"layer":[
{"data":{"name":"boxL"},"mark":{"type":"rule","color":"#666666","strokeWidth":1.3},
"encoding":{
"x":{"field":"g","type":"quantitative","title":null,"scale":{"domain":[0.4,3.6],"nice":false,"zero":false},
"axis":{"values":[1,2,3],"labelExpr":"datum.value == 1 ? ['Affiliative', '\u00a0approach'] : datum.value == 2 ? ['Aggressive', '\u00a0approach'] : 'Avoidance'","grid":false,"ticks":false,"domain":true,"domainColor":"#a8a8a8","domainWidth":1.2,"labelFontSize":16.6,"labelColor":"#1a1a1a","labelPadding":8,"labelLineHeight":17.5,"labelOverlap":false}},
"y":{"field":"lo","type":"quantitative","title":"Positivity score","scale":{"domain":[-4.9,105.1],"nice":false,"zero":false},
"axis":{"values":[0,12.5,25,37.5,50,62.5,75,87.5,100],"labelExpr":"datum.value % 25 == 0 ? datum.label : ''","grid":true,"gridColor":"#ebebeb","gridWidth":1,"ticks":false,"domain":true,"domainColor":"#a8a8a8","domainWidth":1.2,"labelFontSize":16.6,"labelColor":"#1a1a1a","labelPadding":6,"titleFontSize":17,"titleFontWeight":"normal","titleColor":"#1a1a1a","titlePadding":5}},
"y2":{"field":"hi"}}},
{"data":{"name":"boxL"},"mark":{"type":"bar","size":130,"fill":"white","stroke":"#5e5e5e","strokeWidth":1.3},
"encoding":{"x":{"field":"g","type":"quantitative","title":null},"y":{"field":"q1","type":"quantitative","title":"Positivity score"},"y2":{"field":"q3"}}},
{"data":{"name":"boxL"},"mark":{"type":"tick","orient":"horizontal","size":130,"thickness":2.6,"color":"#3a3a3a","opacity":1},
"encoding":{"x":{"field":"g","type":"quantitative","title":null},"y":{"field":"med","type":"quantitative","title":"Positivity score"}}},
{"data":{"name":"ptsL"},"mark":{"type":"circle","size":17,"color":"#7c7c7c","opacity":1},
"encoding":{"x":{"field":"x","type":"quantitative","title":null},"y":{"field":"y","type":"quantitative","title":"Positivity score"}}},
{"data":{"name":"boxL"},"mark":{"type":"point","shape":"diamond","filled":true,"size":135,"color":"black","opacity":1},
"encoding":{"x":{"field":"g","type":"quantitative","title":null},"y":{"field":"mean","type":"quantitative","title":"Positivity score"}}}
]},
{"width":556,"height":532,
"title":{"text":"Subgroup-level classification images","fontSize":19.5,"fontWeight":"bold","anchor":"middle","frame":"bounds","offset":4,"color":"#111111"},
"layer":[
{"data":{"name":"boxR"},"mark":{"type":"rule","color":"#666666","strokeWidth":1.3},
"encoding":{
"x":{"field":"g","type":"quantitative","title":null,"scale":{"domain":[0.4,3.6],"nice":false,"zero":false},
"axis":{"values":[1,2,3],"labelExpr":"datum.value == 1 ? ['Affiliative', '\u00a0approach'] : datum.value == 2 ? ['Aggressive', '\u00a0approach'] : 'Avoidance'","grid":false,"ticks":false,"domain":true,"domainColor":"#a8a8a8","domainWidth":1.2,"labelFontSize":16.6,"labelColor":"#1a1a1a","labelPadding":8,"labelLineHeight":17.5,"labelOverlap":false}},
"y":{"field":"lo","type":"quantitative","title":null,"scale":{"domain":[-4.9,105.1],"nice":false,"zero":false},
"axis":{"values":[0,12.5,25,37.5,50,62.5,75,87.5,100],"labelExpr":"datum.value % 25 == 0 ? datum.label : ''","grid":true,"gridColor":"#ebebeb","gridWidth":1,"ticks":false,"domain":true,"domainColor":"#a8a8a8","domainWidth":1.2,"labelFontSize":16.6,"labelColor":"#1a1a1a","labelPadding":6}},
"y2":{"field":"hi"}}},
{"data":{"name":"boxR"},"mark":{"type":"bar","size":130,"fill":"white","stroke":"#5e5e5e","strokeWidth":1.3},
"encoding":{"x":{"field":"g","type":"quantitative","title":null},"y":{"field":"q1","type":"quantitative","title":null},"y2":{"field":"q3"}}},
{"data":{"name":"boxR"},"mark":{"type":"tick","orient":"horizontal","size":130,"thickness":2.6,"color":"#3a3a3a","opacity":1},
"encoding":{"x":{"field":"g","type":"quantitative","title":null},"y":{"field":"med","type":"quantitative","title":null}}},
{"data":{"name":"ptsR"},"mark":{"type":"circle","size":17,"color":"#7c7c7c","opacity":1},
"encoding":{"x":{"field":"x","type":"quantitative","title":null},"y":{"field":"y","type":"quantitative","title":null}}},
{"data":{"name":"boxR"},"mark":{"type":"point","shape":"diamond","filled":true,"size":135,"color":"black","opacity":1},
"encoding":{"x":{"field":"g","type":"quantitative","title":null},"y":{"field":"mean","type":"quantitative","title":null}}}
]}
]
}
